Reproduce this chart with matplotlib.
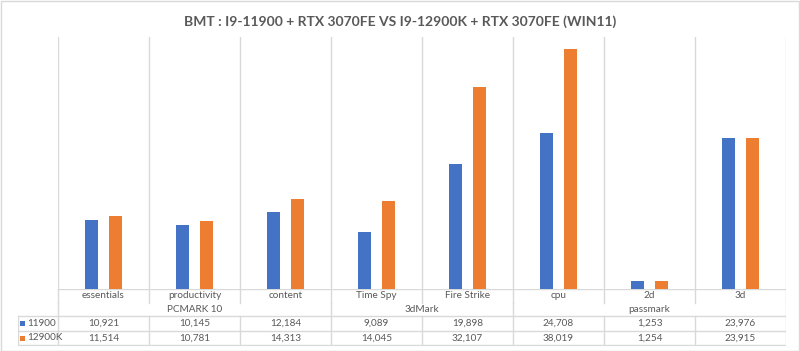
import matplotlib
matplotlib.use("Agg")
import matplotlib.pyplot as plt
from matplotlib.patches import Rectangle
import numpy as np

plt.rcParams['font.family'] = ['Lato', 'DejaVu Sans']

title = "BMT : I9-11900 + RTX 3070FE VS I9-12900K + RTX 3070FE (WIN11)"
categories = ["essentials", "productivity", "content", "Time Spy", "Fire Strike", "cpu", "2d", "3d"]
groups = ["PCMARK 10", "3dMark", "passmark"]
group_sizes = [3, 2, 3]
series_names = ["11900", "12900K"]
s11900 = [10921, 10145, 12184, 9089, 19898, 24708, 1253, 23976]
s12900k = [11514, 10781, 14313, 14045, 32107, 38019, 1254, 23915]
colors = ["#4472C4", "#ED7D31"]

W, H = 800, 351
fig = plt.figure(figsize=(W / 100, H / 100), dpi=100)
fig.patch.set_facecolor("white")
fig.patches.append(Rectangle((0.5 / W, 0.5 / H), (W - 1.5) / W, (H - 1.5) / H, transform=fig.transFigure,
                             fill=False, edgecolor="#D9D9D9", lw=1))

grid_c = "#D9D9D9"
text_c = "#595959"

# plot area
px_l, px_r, px_t, px_b = 58, 786, 37, 289
ax = fig.add_axes([px_l / W, 1 - px_b / H, (px_r - px_l) / W, (px_b - px_t) / H])
n = len(categories)
x = np.arange(n)
bw = 0.145
off = 0.132
ax.bar(x - off, s11900, bw, color=colors[0], zorder=3)
ax.bar(x + off, s12900k, bw, color=colors[1], zorder=3)
ax.set_xlim(-0.5, n - 0.5)
ax.set_ylim(0, 40000)
for b in np.arange(-0.5, n, 1.0):
    ax.axvline(b, color=grid_c, lw=1, zorder=1)
ax.set_xticks([])
ax.set_yticks([])
for s in ax.spines.values():
    s.set_visible(False)

fig.text(0.5, 1 - 22 / H, title, ha="center", va="center", fontsize=10, fontweight="bold",
         color=text_c)

# data table axes
tb_l, tb_r, tb_t, tb_b = 18, 786, 289, 346
cat_px = (px_r - px_l) / n
left_cat = -0.5 - (px_l - tb_l) / cat_px
tax = fig.add_axes([tb_l / W, 1 - tb_b / H, (tb_r - tb_l) / W, (tb_b - tb_t) / H])
tax.set_xlim(left_cat, n - 0.5)
tax.set_ylim(tb_b, tb_t)
tax.axis("off")

y_cat, y_grp_top, y_r1, y_r2, y_bot = 289, 303, 316, 331, 345
lw = 1
# axis line
tax.plot([-0.5, n - 0.5], [y_cat, y_cat], color=grid_c, lw=lw)
# category row separators
for b in np.arange(-0.5, n, 1.0):
    tax.plot([b, b], [y_cat, y_grp_top], color=grid_c, lw=lw)
# group separators
bounds = np.concatenate([[0], np.cumsum(group_sizes)]) - 0.5
for b in bounds:
    tax.plot([b, b], [y_grp_top, y_r1], color=grid_c, lw=lw)
# data rows
for yy in [y_r1, y_r2, y_bot]:
    tax.plot([left_cat, n - 0.5], [yy, yy], color=grid_c, lw=lw)
for b in np.concatenate([[left_cat], np.arange(-0.5, n, 1.0)]):
    tax.plot([b, b], [y_r1, y_bot], color=grid_c, lw=lw)

fs = 7.2
for i, c in enumerate(categories):
    tax.text(i, 296, c, ha="center", va="center", fontsize=fs, color=text_c)
for g, lo, hi in zip(groups, bounds[:-1], bounds[1:]):
    tax.text((lo + hi) / 2, 309.5, g, ha="center", va="center", fontsize=fs, color=text_c)
for row_y, name, vals, col in [((y_r1 + y_r2) / 2, series_names[0], s11900, colors[0]),
                               ((y_r2 + y_bot) / 2, series_names[1], s12900k, colors[1])]:
    for i, v in enumerate(vals):
        tax.text(i, row_y, f"{v:,}", ha="center", va="center", fontsize=fs, color=text_c)
    key_w = 5 / cat_px
    tax.add_patch(Rectangle((left_cat + 2 / cat_px, row_y - 2.5), key_w, 5, color=col, lw=0))
    tax.text(left_cat + 9 / cat_px, row_y, name, ha="left", va="center", fontsize=fs, color=text_c)

fig.savefig("out.png", dpi=100, facecolor="white")
